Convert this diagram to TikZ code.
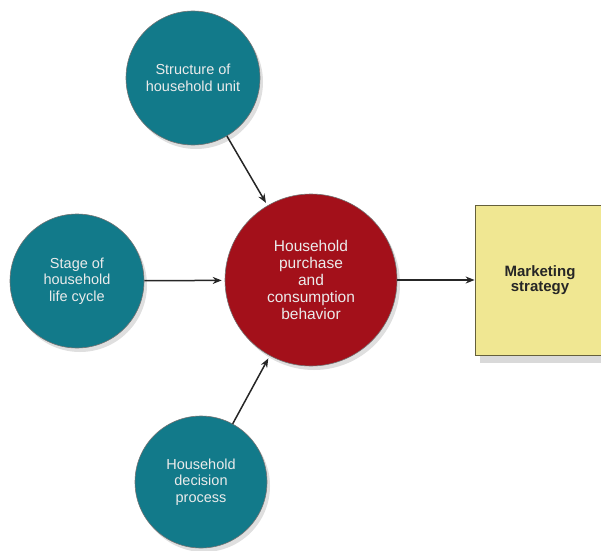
\documentclass[tikz,border=0pt]{standalone}
\usepackage{fontspec}
\setmainfont{Liberation Sans}
\usetikzlibrary{arrows.meta,shadows}
\definecolor{tealblue}{RGB}{18,122,138}
\definecolor{deepred}{RGB}{163,16,26}
\definecolor{paleyellow}{RGB}{240,231,146}
\definecolor{olive}{RGB}{100,95,60}

\begin{document}
\begin{tikzpicture}[x=1pt,y=1pt,
    factor/.style={circle,fill=tealblue,draw=black!55,line width=0.6pt,
        minimum size=134pt,inner sep=0pt,align=center,text=white!92!black,
        font=\fontsize{14.5}{16.5}\selectfont,
        drop shadow={shadow xshift=3pt,shadow yshift=-4pt,opacity=0.25}},
    behavior/.style={circle,fill=deepred,draw=black!55,line width=0.6pt,
        minimum size=172pt,inner sep=0pt,align=center,text=white!92!black,
        font=\fontsize{15.5}{16.8}\selectfont,
        drop shadow={shadow xshift=3pt,shadow yshift=-4pt,opacity=0.25}},
    strategy/.style={rectangle,fill=paleyellow,draw=olive,line width=0.8pt,
        minimum width=130pt,minimum height=150pt,align=center,text=black!85,
        font=\fontsize{15}{15}\selectfont\bfseries,
        drop shadow={shadow xshift=5pt,shadow yshift=-8pt,opacity=0.3}},
    link/.style={-{Stealth[length=9pt,width=7pt]},line width=1.5pt,black!85}]
    \useasboundingbox (0,0) rectangle (601,550);

    % Influences
    \node[factor] (structure) at (193,472) {Structure of\\household unit};
    \node[factor] (lifecycle) at (77,269) {Stage of\\household\\life cycle};
    \node[factor,minimum size=132pt] (decision) at (201,68) {Household\\decision\\process};

    % Center
    \node[behavior] (purchase) at (311,270) {Household\\purchase\\and\\consumption\\behavior};

    % Outcome
    \node[strategy] (marketing) at (540,270) {Marketing\\strategy};

    % Arrows
    \draw[link,shorten >=3pt] (structure) -- (purchase);
    \draw[link,shorten >=3pt] (lifecycle) -- (purchase);
    \draw[link,shorten >=3pt] (decision) -- (purchase);
    \draw[link] (purchase) -- (marketing);
\end{tikzpicture}
\end{document}
